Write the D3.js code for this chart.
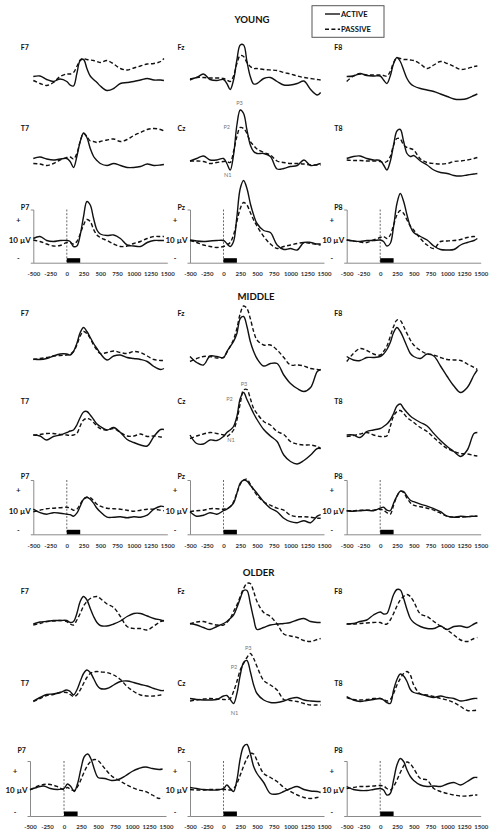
<!DOCTYPE html>
<html><head><meta charset="utf-8">
<script src="https://cdn.jsdelivr.net/npm/d3@7"></script>
<style>body{margin:0;background:#fff}svg{display:block}</style>
</head><body>
<script>
// ---------- DATA (µV) ----------
const times = [-500,-400,-300,-200,-100,0,50,100,150,200,250,300,350,400,450,500,600,700,800,900,1000,1100,1200,1300,1400,1450];
const groups = ["YOUNG","MIDDLE","OLDER"];
const electrodes = [["F7","Fz","F8"],["T7","Cz","T8"],["P7","Pz","P8"]];
const seriesNames = ["ACTIVE","PASSIVE"];
const xTicks = [-500,-250,0,250,500,750,1000,1250,1500];
const peakLabels = ["P3","P2","N1"];
const scaleLabel = "10 µV";

// YOUNG
const young_F7_active  = [0.3,0.4,-0.3,-0.7,-0.2,-0.7,-1.4,-1.6,0.9,3.5,3.7,1.9,0.4,-0.3,-0.9,-1.6,-2.5,-2.1,-1.1,-0.9,-0.7,-0.4,-0.1,-0.4,-0.4,-0.5];
const young_F7_passive = [-0.5,-1.1,-1.5,-0.9,0.3,0.8,0.8,1.1,2.3,3.6,3.9,3.7,3.6,3.5,3.3,3.1,3.5,2.8,1.9,1.6,2.0,2.4,2.8,2.9,3.3,3.9];
const young_Fz_active  = [-0.2,0.1,0.8,-0.3,-0.5,-0.3,-1.1,-2.3,-0.4,3.6,6.6,6.6,3.3,0.3,-1.2,-1.1,-0.1,0.1,-0.7,-1.4,-1.4,-1.1,-0.6,-2.3,-3.4,-2.9];
const young_Fz_passive = [-0.4,0.1,0.1,0,0,-0.1,-0.4,-0.7,0.4,2.9,4.5,4.3,3.1,2.3,1.9,1.9,1.7,1.6,1.5,1.1,0.8,0.4,0.1,-0.1,-0.3,-0.4];
const young_F8_active  = [0.3,0.4,0.9,0.5,0.4,0.4,-0.4,-1.1,0.4,2.9,4.1,3.3,1.6,-0.1,-1.1,-1.6,-2.1,-2.4,-2.7,-3.2,-3.7,-4.2,-4.3,-4.1,-3.5,-3.2];
const young_F8_passive = [-0.7,0.4,0.8,0.6,0.6,0.6,0.5,0.4,1.3,3.1,4.0,3.9,3.7,3.7,3.6,3.5,2.8,1.9,2.6,3.3,2.9,2.3,1.7,1.9,2.3,2.4];
const young_T7_active  = [0.3,0.6,0.2,0,0.2,0.3,-0.3,-1.5,0.7,3.7,5.4,4.5,2.3,0.7,-0.1,-0.7,-1.1,-0.7,-1.1,-1.5,-1.5,-1.3,-0.8,-1.1,-1.0,-0.9];
const young_T7_passive = [-0.7,-0.8,-1.1,-0.7,0,0.5,0.6,0.2,1.3,3.7,5.3,4.7,3.8,3.7,3.5,3.7,4.0,4.2,3.7,4.1,4.9,5.5,6.1,6.3,6.1,5.8];
const young_Cz_active  = [-0.2,0.3,0.8,0,0,0.3,-0.7,-2.0,1.0,7.0,10.0,9.3,6.0,3.0,1.7,1.3,1.3,0.7,-1.8,-1.7,-1.3,-1.1,0,-1.1,-0.9,-0.7];
const young_Cz_passive = [-0.2,-0.2,-0.3,-0.7,-0.5,-0.3,-0.3,-0.5,1.7,4.7,6.5,6.3,5.3,3.7,2.9,2.2,1.5,1.0,-0.2,-0.5,-0.7,-0.7,-0.8,-1.0,-1.0,-1.0];
const young_T8_active  = [0.3,0.7,0.8,0.3,0,-0.1,-1.0,-2.0,-0.3,3.0,5.8,6.1,3.7,1.3,0.7,0.9,-0.2,-1.0,-2.0,-2.5,-2.7,-3.1,-3.2,-3.0,-2.8,-2.7];
const young_T8_passive = [0,-0.1,-0.1,-0.2,-0.2,-0.3,-0.5,-0.3,0.7,3.0,4.3,4.2,3.0,2.5,2.3,2.0,0.2,-0.5,-0.7,-0.8,-0.7,-0.3,-0.2,0,0.3,0.5];
const young_P7_active  = [0.3,0.7,-0.1,-0.3,-0.1,-0.1,-0.3,-1.3,-1.2,1.0,4.7,7.7,7.0,4.3,2.0,1.2,0.9,1.0,0.3,-1.0,-1.2,-1.3,-0.5,-0.1,-0.1,-0.1];
const young_P7_passive = [0,-0.3,-0.8,-1.2,-1.1,-0.5,-0.5,-0.8,-0.3,1.2,3.0,4.1,3.7,2.1,1.0,0.5,-0.1,-0.8,-1.3,-1.2,-0.7,-0.3,0.3,0.7,0.7,0.7];
const young_Pz_active  = [0,-0.2,-0.3,-0.2,-0.1,-0.1,-0.7,-1.3,-0.3,4.7,10.3,11.9,10.3,7.3,5.0,3.3,1.9,1.5,-1.0,-1.9,-1.7,-2.0,-0.5,-0.5,-0.8,-0.8];
const young_Pz_passive = [-0.1,-0.5,-1.0,-1.3,-1.5,-1.3,-1.0,-0.5,1.0,3.7,6.3,7.5,7.0,5.5,4.0,2.8,0.7,-0.8,-1.7,-1.3,-1.0,-0.7,-0.5,-0.7,-0.9,-1.0];
const young_P8_active  = [0,-0.2,-0.3,-0.1,-0.1,0,-0.3,-1.2,-0.7,2.7,7.3,9.3,7.7,5.0,2.7,1.5,0.7,0,-1.2,-1.9,-2.0,-1.9,-1.0,-0.5,-0.1,0.3];
const young_P8_passive = [0,-0.2,-0.4,-0.5,0,0.5,0.7,0.3,1.0,3.0,5.0,5.9,5.3,4.0,2.8,2.0,0.3,-1.0,-1.7,-0.3,-0.2,-0.1,0.1,0.5,0.7,0.5];
// MIDDLE
const middle_F7_active  = [0,-0.1,0.1,0.6,1.0,1.0,0.8,1.5,3.1,5.3,6.3,5.5,4.3,3.1,2.1,1.1,-0.2,0.6,0.8,0.3,0.1,-0.1,-0.5,-1.5,-2.1,-1.9];
const middle_F7_passive = [-0.1,0.1,0.3,0.6,0.7,0.8,1.0,1.5,2.8,4.6,5.5,5.1,4.1,2.8,1.8,1.1,1.3,1.6,1.3,1.1,1.5,1.3,0.6,-0.1,-0.3,-0.3];
const middle_Fz_active  = [0.5,-0.7,-1.2,0.6,0.5,0.3,1.5,2.5,3.5,5.1,8.1,8.5,6.5,3.5,1.5,0.1,-1.4,-0.9,-0.9,-3.2,-4.9,-5.9,-6.5,-5.7,-2.5,-2.1];
const middle_Fz_passive = [-0.5,0.1,0.5,0.5,0.2,0.3,1.3,2.5,3.9,6.1,9.1,10.6,10.1,8.1,5.5,3.8,2.8,2.8,1.8,0.3,-1.2,-1.2,-1.4,-1.9,-2.1,-2.2];
const middle_F8_active  = [0.5,-0.2,-0.3,0.3,0.3,0.5,1.0,1.9,3.3,5.3,6.3,5.5,4.1,2.5,1.1,0.5,0.1,1.0,0.6,-1.4,-3.5,-5.4,-6.7,-5.7,-3.2,-2.2];
const middle_F8_passive = [-0.5,1.1,2.1,1.7,1.0,0.8,1.5,2.6,4.5,6.5,7.8,7.7,6.5,5.1,3.8,2.8,1.7,1.0,0.8,0.3,-0.1,-0.2,-0.3,-1.0,-1.7,-2.1];
const middle_T7_active  = [0,-0.2,-1.0,-0.3,0,0.5,0.8,1.0,2.0,3.5,4.6,4.7,4.0,3.1,2.2,1.7,1.0,1.5,0.5,-0.9,-1.5,-2.0,-2.2,-0.3,1.1,1.1];
const middle_T7_passive = [0,0.1,0.3,0.3,0.1,0,-0.1,0,0.3,1.8,3.0,3.3,3.1,2.5,1.8,1.3,1.0,1.3,0.5,-0.2,-0.2,0.2,-0.3,-0.2,-0.4,-0.5];
const middle_Cz_active  = [0,-1.7,-1.8,-1.0,-1.1,-0.3,0.5,1.0,1.7,3.7,7.3,8.5,7.1,5.7,4.3,3.1,1.1,-0.2,-1.3,-4.0,-5.3,-5.8,-5.1,-4.0,-2.7,-2.7];
const middle_Cz_passive = [-0.7,-0.2,0.2,0.5,0.3,0,-0.3,0.2,1.0,3.0,6.3,9.0,9.1,7.3,5.3,4.3,2.7,2.0,0.7,0.1,-1.3,-1.8,-2.0,-2.0,-2.3,-2.7];
const middle_T8_active  = [0,0,-0.5,0.7,1.0,1.3,1.7,2.2,3.0,4.3,5.8,6.2,5.3,4.5,3.8,3.3,2.5,1.8,0.3,-1.1,-2.3,-3.3,-4.3,-3.0,0.3,0.5];
const middle_T8_passive = [-0.3,-0.1,0.2,0.5,0,-0.3,-0.3,-0.2,1.7,3.8,4.7,4.9,4.3,3.5,3.0,2.5,1.5,0.7,-0.5,-1.7,-2.7,-3.3,-3.7,-3.8,-4.1,-4.2];
const middle_P7_active  = [0.3,-0.4,-0.7,-0.4,-0.5,-0.7,-0.8,-1.1,-0.5,0.9,2.3,2.7,2.3,1.5,0.5,-0.2,-1.3,-1.3,-1.2,-1.4,-1.2,-1.3,-0.9,0.3,0.9,0.8];
const middle_P7_passive = [-0.2,0.1,0.4,0.5,0.6,0.7,0.5,0.1,0.3,1.3,2.3,2.7,2.6,2.0,1.3,0.9,0.5,0.4,0.3,0.1,-0.1,0.1,0.3,0.3,0.1,0];
const middle_Pz_active  = [-0.2,-1.1,-0.9,-0.4,-0.7,0,0.3,0.8,1.5,3.5,5.5,6.1,5.9,5.1,4.3,3.5,1.8,0.5,-0.2,-1.5,-2.2,-2.4,-2.0,-2.4,-1.1,-0.8];
const middle_Pz_passive = [-0.2,0,0.1,0.4,0.4,0.3,0.5,0.8,1.8,3.5,5.3,6.1,6.3,5.3,4.1,3.1,1.8,1.1,0.5,0.1,-0.9,-1.2,-1.2,-1.3,-1.5,-1.5];
const middle_P8_active  = [0,-0.1,0,0.1,0,0.5,0.7,0.1,0,1.5,2.9,3.9,3.8,2.9,2.1,1.8,1.3,0.9,0.4,-0.2,-1.1,-1.3,-1.1,-1.2,-1.1,-1.1];
const middle_P8_passive = [0,0,0.1,0.1,0.1,0.3,0.1,-0.4,-0.7,1.1,2.9,3.9,3.6,2.5,1.6,1.1,0.8,0.5,0.1,-0.5,-1.1,-1.3,-1.3,-1.2,-1.1,-1.1];
// OLDER
const older_F7_active  = [0,0.4,0.5,0.7,0.7,0.7,0.3,0.5,2.1,4.5,5.5,4.8,3.1,1.5,0.3,-0.3,-0.4,0,0.6,1.5,2.1,2.1,1.6,1.1,0.8,0.6];
const older_F7_passive = [-0.2,0.1,0.5,0.6,0.7,0.5,0,-0.2,0.8,2.1,3.6,4.5,5.1,5.4,5.5,5.1,4.0,3.3,1.5,-0.5,-0.9,-0.9,-1.2,-0.4,0.5,0.7];
const older_Fz_active  = [0.1,-0.2,-0.7,-1.1,-0.5,0.1,0.5,1.1,1.8,3.3,5.1,6.7,6.7,4.1,1.1,-1.1,-0.7,-0.2,0,0.1,0.3,0.8,1.1,0.5,0.3,0.3];
const older_Fz_passive = [0,0.4,0.5,0.1,-0.2,-0.2,0.3,1.1,2.5,3.8,5.5,7.1,8.1,8.1,6.5,4.5,2.3,1.5,0,-2.0,-2.4,-2.7,-3.3,-3.5,-3.1,-2.9];
const older_F8_active  = [0,0.1,0.5,0.8,1.8,2.4,2.0,2.1,3.8,5.9,6.9,6.8,5.1,2.9,1.1,0.3,-0.5,-0.9,-0.9,-0.4,-1.1,-0.5,-0.4,-0.7,0,0.3];
const older_F8_passive = [0,0,0.1,0.2,0.3,0.3,0,0,0.8,2.1,3.6,4.8,5.5,5.9,5.5,4.5,2.0,1.5,0.5,-0.4,-1.2,-2.2,-3.2,-3.5,-2.9,-2.7];
const older_T7_active  = [-0.2,0.5,1.1,1.2,1.5,2.0,1.7,1.0,2.0,3.7,5.3,6.0,5.5,4.3,3.0,2.3,2.3,3.0,3.7,3.8,3.5,3.1,2.8,2.3,1.9,1.9];
const older_T7_passive = [-0.3,0.3,0.9,1.1,1.5,1.5,1.1,0.7,1.0,2.0,3.3,4.5,5.3,5.6,5.7,5.6,5.5,5.0,4.1,2.7,1.7,1.0,0.8,0.8,1.0,1.1];
const older_Cz_active  = [0.3,0.1,0,0,0.1,0.8,0.9,0.1,-0.7,1.3,5.0,7.5,7.9,5.7,3.0,1.3,0,-0.5,-0.5,-0.2,0.3,0.5,0,-0.2,-0.3,-0.3];
const older_Cz_passive = [-0.2,0,0.2,0.3,0.2,0.1,0.1,0.3,1.7,3.7,6.0,7.3,8.5,9.3,8.3,6.7,3.9,3.0,2.0,0.1,-0.1,-0.3,-0.7,-1.0,-1.0,-1.0];
const older_T8_active  = [0.7,0,-0.3,-0.1,0.1,0.3,0,-0.5,-0.7,2.0,4.1,5.2,4.8,3.7,2.1,1.5,1.2,0.8,0.5,0.8,0.5,0.3,-0.2,0,0.3,0.3];
const older_T8_passive = [0.5,0.1,0,0.1,0.3,0.3,0.1,-0.2,0.1,1.3,3.0,4.3,5.3,5.7,5.0,3.0,1.2,1.0,0.7,0.3,0,-0.5,-1.3,-2.1,-2.1,-2.0];
const older_P7_active  = [0.1,0.5,0.8,0.3,0.1,0.3,1.2,0.7,-0.3,1.3,4.3,6.7,7.2,6.1,4.0,2.5,2.3,1.9,2.1,2.8,3.7,4.3,4.6,4.3,4.1,4.2];
const older_P7_passive = [0,0.7,1.1,1.1,0.7,0.1,0.5,0.1,-0.1,0.7,2.1,3.7,5.0,5.8,6.1,5.9,4.3,2.8,2.0,1.2,0.5,0,-0.3,-1.0,-1.7,-1.3];
const older_Pz_active  = [0.5,0.3,0.1,0,0,0.3,1.0,0.3,-0.3,2.0,6.3,8.7,9.1,7.3,4.7,3.3,1.5,-0.7,-0.8,-0.3,0.3,0.7,0.1,-0.2,-0.3,-0.5];
const older_Pz_passive = [0.1,0,0,0.1,0.1,0.1,0.1,0,0.3,1.3,3.0,4.8,6.3,7.3,7.2,5.9,3.3,2.5,1.7,0.5,-0.3,-1.0,-1.5,-1.7,-1.5,-1.3];
const older_P8_active  = [0.7,0.1,-0.1,-0.1,0.1,0.3,0,-1.0,-0.7,2.0,5.0,6.3,5.7,4.0,2.7,1.9,1.0,0.7,0.8,0.7,1.2,1.5,1.0,1.7,2.5,2.5];
const older_P8_passive = [0.3,0.5,0.7,0.7,0.8,0.9,0.8,0.3,0,0.7,2.0,3.5,4.8,5.6,5.2,4.3,2.3,2.0,0.3,-0.3,-0.7,-1.0,-1.2,-1.2,-1.0,-1.0];

const waves = {
  YOUNG: {F7:[young_F7_active,young_F7_passive],Fz:[young_Fz_active,young_Fz_passive],F8:[young_F8_active,young_F8_passive],
          T7:[young_T7_active,young_T7_passive],Cz:[young_Cz_active,young_Cz_passive],T8:[young_T8_active,young_T8_passive],
          P7:[young_P7_active,young_P7_passive],Pz:[young_Pz_active,young_Pz_passive],P8:[young_P8_active,young_P8_passive]},
  MIDDLE:{F7:[middle_F7_active,middle_F7_passive],Fz:[middle_Fz_active,middle_Fz_passive],F8:[middle_F8_active,middle_F8_passive],
          T7:[middle_T7_active,middle_T7_passive],Cz:[middle_Cz_active,middle_Cz_passive],T8:[middle_T8_active,middle_T8_passive],
          P7:[middle_P7_active,middle_P7_passive],Pz:[middle_Pz_active,middle_Pz_passive],P8:[middle_P8_active,middle_P8_passive]},
  OLDER: {F7:[older_F7_active,older_F7_passive],Fz:[older_Fz_active,older_Fz_passive],F8:[older_F8_active,older_F8_passive],
          T7:[older_T7_active,older_T7_passive],Cz:[older_Cz_active,older_Cz_passive],T8:[older_T8_active,older_T8_passive],
          P7:[older_P7_active,older_P7_passive],Pz:[older_Pz_active,older_Pz_passive],P8:[older_P8_active,older_P8_passive]}
};

// ---------- LAYOUT ----------
const W = 496, H = 836;
const FONT = "Lato, 'Liberation Sans', Arial, sans-serif";
const colX = [33.3, 190, 346.7], plotW = 134;
const pxPerUV = 5;
const titleY = [20, 297, 573];
const titleX = [252, 256, 258.5];
const rowZero = [[78,160,240],[359,435,510.7],[624,700,790]];
const rowLabelY = [[47,128,207],[313,401,476],[591,683,750]];
const pTop = [209.5, 480, 761], pBot = [262.7, 534.3, 816];
const peakPos = [ // [x,y] for P3,P2,N1 in the Cz panels
  [[239.5,103.3],[226.7,126.7],[227.8,175]],
  [[244,384],[229.5,399],[231,440]],
  [[248.3,648],[234,667.3],[234.5,712.5]]
];
const dashes = [null, "4,2.4"];

const svg = d3.select("body").append("svg").attr("width",W).attr("height",H)
  .attr("font-family",FONT);

// legend
const lg = svg.append("g");
lg.append("rect").attr("x",312).attr("y",5.7).attr("width",72).attr("height",31.6)
  .attr("fill","none").attr("stroke","#555").attr("stroke-width",1);
seriesNames.forEach((s,i)=>{
  const yy = [14,29.3][i];
  lg.append("line").attr("x1",325).attr("x2",340).attr("y1",yy).attr("y2",yy)
    .attr("stroke","#111").attr("stroke-width",1.4).attr("stroke-dasharray",dashes[i]);
  lg.append("text").attr("x",341).attr("y",yy+2.8).attr("font-size",7.6).attr("font-weight","bold")
    .attr("fill","#111").text(s);
});

groups.forEach((g,gi)=>{
  svg.append("text").attr("x",titleX[gi]).attr("y",titleY[gi]+3.4).attr("text-anchor","middle")
    .attr("font-size",9.6).attr("font-weight","bold").attr("fill","#111").text(g);
  electrodes.forEach((row,ri)=>{
    row.forEach((el,ci)=>{
      // the OLDER P7 panel sits a little further left and is slightly wider in the original
      const shifted = (gi === 2 && ri === 2 && ci === 0);
      const x0 = shifted ? 30 : colX[ci];
      const w = shifted ? 136 : plotW;
      const zero = rowZero[gi][ri];
      const x = d3.scaleLinear().domain([-500,1500]).range([x0, x0+w]);
      const y = d3.scaleLinear().domain([0,1]).range([zero, zero-pxPerUV]);
      const pg = svg.append("g");
      pg.append("text").attr("x",x0-12.5).attr("y",rowLabelY[gi][ri]+2.5)
        .attr("font-size",7).attr("font-weight","bold").attr("fill","#111").text(el);
      if (ri === 2) {
        const top = pTop[gi], bot = pBot[gi];
        const yAx = d3.scaleLinear().domain([y.invert(bot), y.invert(top)]).range([bot, top]);
        const ya = pg.append("g").attr("transform",`translate(${x0},0)`)
          .call(d3.axisLeft(yAx).tickValues([]).tickSizeOuter(2.5));
        ya.select(".domain").attr("stroke","#8a8a8a").attr("stroke-width",1);
        const xa = pg.append("g").attr("transform",`translate(0,${bot})`)
          .call(d3.axisBottom(x).tickValues(xTicks).tickFormat(d => String(d))
                .tickSize(0).tickSizeOuter(0).tickPadding(9));
        xa.select(".domain").attr("stroke","#8a8a8a").attr("stroke-width",1);
        xa.selectAll("text").attr("font-size",6).attr("font-weight","bold").attr("fill","#333")
          .attr("font-family",FONT);
        pg.append("line").attr("x1",x(0)).attr("x2",x(0)).attr("y1",top).attr("y2",bot)
          .attr("stroke","#444").attr("stroke-width",0.8).attr("stroke-dasharray","2,1.6");
        pg.append("rect").attr("x",x(0)).attr("width",x(200)-x(0)).attr("y",bot-4.5).attr("height",4.5)
          .attr("fill","#000");
        pg.append("text").attr("x",x0-15).attr("y",top+13).attr("text-anchor","middle")
          .attr("font-size",8).attr("font-weight","bold").attr("fill","#222").text("+");
        pg.append("text").attr("x",x0-2.5).attr("y",zero+3).attr("text-anchor","end")
          .attr("font-size",8).attr("font-weight","bold").attr("fill","#111").text(scaleLabel);
        pg.append("text").attr("x",x0-15).attr("y",bot-1.5).attr("text-anchor","middle")
          .attr("font-size",7).attr("font-weight","bold").attr("fill","#222").text("-");
      }
      const line = d3.line().x((d,i)=>x(times[i])).y(d=>y(d)).curve(d3.curveCatmullRom.alpha(0.5));
      waves[g][el].forEach((vals,si)=>{
        pg.append("path").datum(vals).attr("d",line).attr("fill","none")
          .attr("stroke","#111").attr("stroke-width",1.4)
          .attr("stroke-dasharray",dashes[si]);
      });
      if (el === "Cz") {
        peakLabels.forEach((lab,k)=>{
          pg.append("text").attr("x",peakPos[gi][k][0]).attr("y",peakPos[gi][k][1]+2)
            .attr("text-anchor","middle").attr("font-size",5.6).attr("fill","#777").text(lab);
        });
      }
    });
  });
});
</script>
</body></html>
